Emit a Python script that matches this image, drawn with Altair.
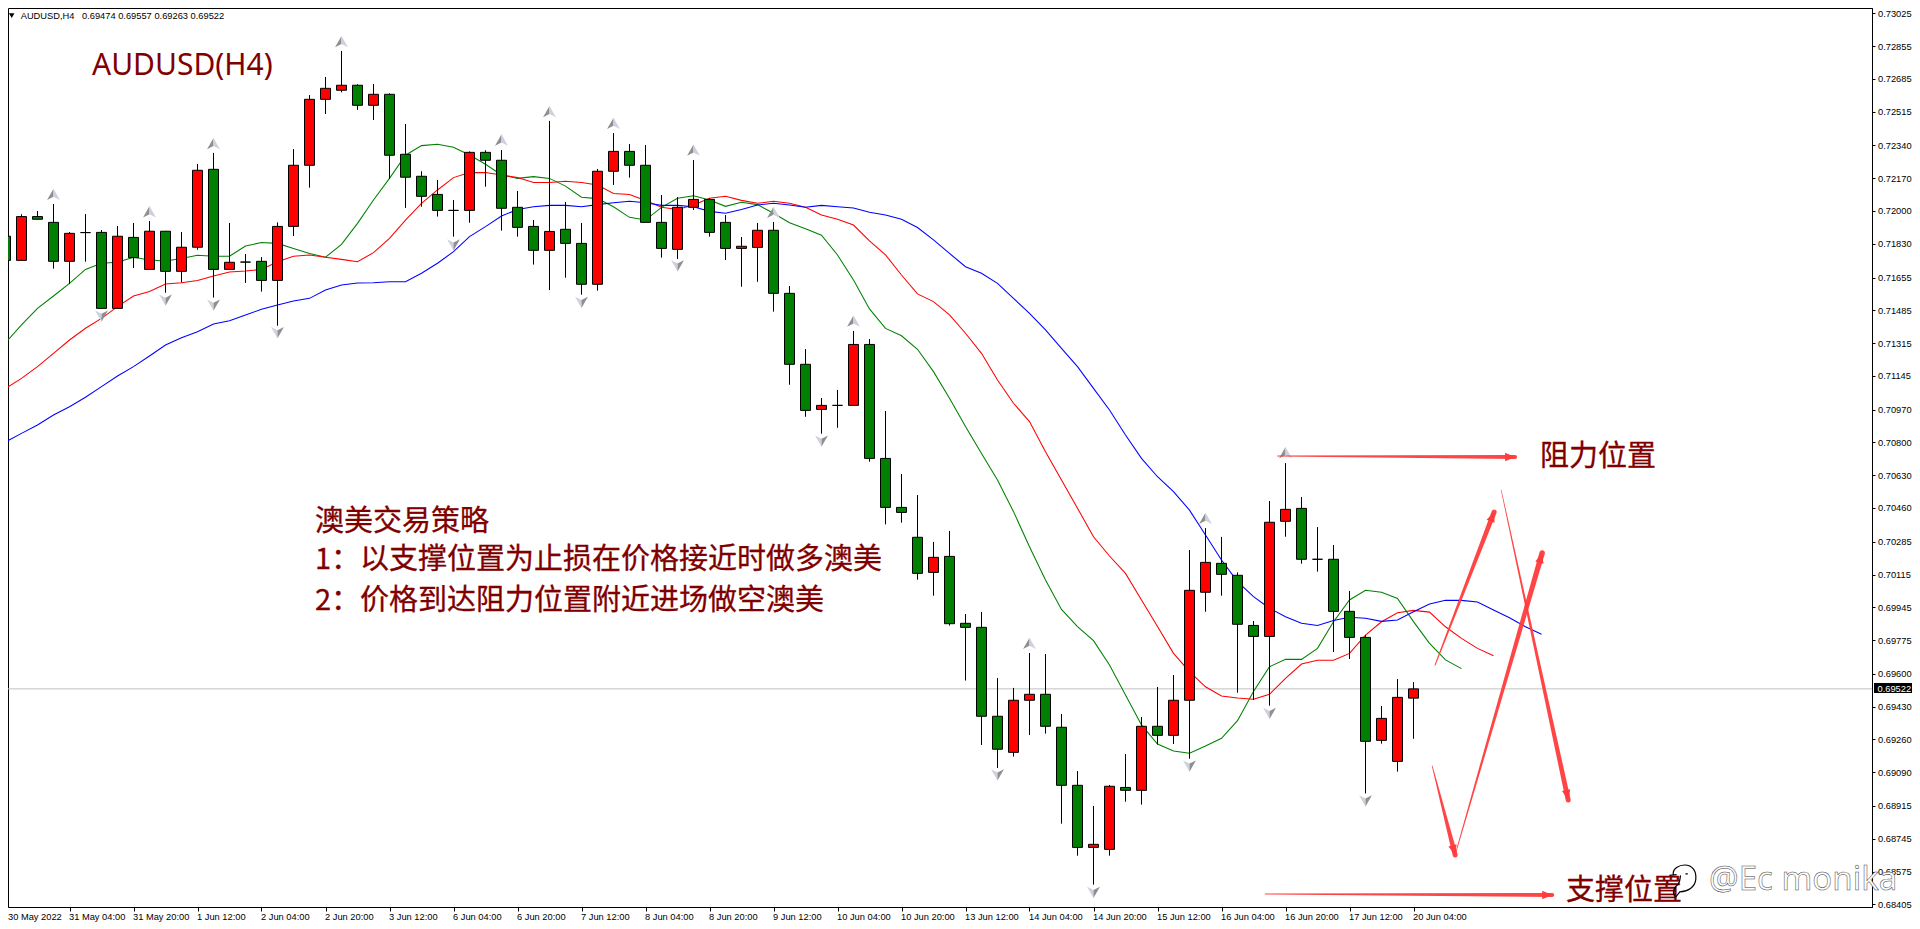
import altair as alt
import pandas as pd

opens = [.71869,.71744,.71971,.71941,.71739,.71888,.71889,.71495,.71863,.71697,.71895,.71687,.71812,.72216,.71697,.71735,.71739,.71640,.71920,.72237,.72579,.72626,.72652,.72548,.72605,.72294,.72180,.72086,.72003,.72003,.72304,.72263,.72019,.71920,.71796,.71905,.71832,.71620,.72206,.72309,.72237,.71941,.71801,.72019,.72060,.71941,.71806,.71811,.71900,.71573,.71205,.70971,.70992,.70992,.71308,.70717,.70463,.70308,.70126,.70209,.69862,.69841,.69380,.69193,.69463,.69494,.69323,.69022,.68700,.68690,.69011,.68996,.69328,.69281,.69463,.70023,.70173,.70111,.69851,.69794,.70391,.70458,.70194,.70194,.69924,.69789,.69255,.69146,.69474]
highs = [.71933,.71983,.72000,.72036,.71891,.71984,.71901,.71922,.71938,.71948,.71895,.71891,.72244,.72301,.71938,.71777,.71761,.71941,.72321,.72601,.72695,.72830,.72657,.72658,.72610,.72451,.72206,.72161,.72057,.72309,.72315,.72316,.72104,.71953,.72467,.72047,.71938,.72218,.72404,.72347,.72342,.72083,.72072,.72264,.72066,.71979,.71865,.71938,.71943,.71611,.71284,.71030,.71072,.71378,.71336,.70963,.70636,.70527,.70284,.70341,.69910,.69921,.69578,.69527,.69708,.69703,.69392,.69096,.68915,.69024,.69184,.69376,.69532,.69594,.70242,.70356,.70310,.70126,.69874,.70496,.70693,.70517,.70361,.70268,.70030,.69801,.69433,.69573,.69557]
lows = [.71729,.71744,.71957,.71701,.71621,.71737,.71495,.71495,.71704,.71697,.71576,.71630,.71799,.71551,.71697,.71627,.71582,.71405,.71870,.72121,.72503,.72615,.72524,.72472,.72166,.72016,.72022,.71971,.71867,.71939,.72126,.71898,.71867,.71722,.71590,.71654,.71566,.71587,.72135,.72173,.71941,.71758,.71751,.72005,.71867,.71746,.71607,.71633,.71478,.71099,.70933,.70845,.70876,.70992,.70700,.70375,.70384,.70088,.70005,.69850,.69565,.69231,.69112,.69171,.69283,.69290,.68823,.68657,.68507,.68657,.68937,.68922,.69234,.69236,.69160,.69922,.70005,.69502,.69464,.69435,.70311,.70171,.70130,.69713,.69677,.68980,.69238,.69093,.69263]
closes = [.71744,.71971,.71957,.71739,.71884,.71888,.71495,.71869,.71758,.71895,.71687,.71812,.72211,.71697,.71734,.71735,.71640,.71920,.72237,.72579,.72636,.72652,.72548,.72605,.72289,.72175,.72076,.72003,.72003,.72304,.72263,.72014,.71915,.71796,.71894,.71832,.71620,.72206,.72309,.72237,.71941,.71806,.72019,.72060,.71889,.71806,.71817,.71900,.71573,.71205,.70966,.70992,.70992,.71308,.70717,.70463,.70437,.70121,.70204,.69860,.69841,.69380,.69209,.69463,.69494,.69328,.69022,.68700,.68716,.69017,.68996,.69328,.69281,.69463,.70033,.70178,.70116,.69857,.69794,.70386,.70453,.70194,.70194,.69924,.69789,.69250,.69369,.69478,.69522]

green_line = [.71317,.71409,.71495,.71559,.71625,.71697,.71729,.71734,.71760,.71746,.71741,.71754,.71770,.71765,.71765,.71818,.71837,.71832,.71806,.71780,.71760,.71827,.71936,.72057,.72169,.72289,.72339,.72346,.72330,.72290,.72242,.72187,.72169,.72178,.72169,.72129,.72071,.72064,.72022,.71967,.71953,.72019,.72066,.72079,.72057,.72024,.72045,.72033,.71988,.71939,.71908,.71874,.71772,.71642,.71492,.71391,.71353,.71283,.71167,.71029,.70882,.70743,.70605,.70441,.70259,.70087,.69934,.69845,.69772,.69646,.69490,.69335,.69236,.69200,.69188,.69226,.69266,.69357,.69508,.69637,.69675,.69675,.69732,.69870,.69983,.70033,.70023,.69991,.69871,.69758,.69672,.69627]
red_line = [.71080,.71132,.71193,.71262,.71331,.71392,.71443,.71504,.71559,.71582,.71621,.71628,.71639,.71663,.71684,.71689,.71697,.71737,.71765,.71772,.71760,.71749,.71737,.71784,.71858,.71953,.72040,.72109,.72173,.72199,.72199,.72187,.72173,.72148,.72148,.72154,.72148,.72135,.72091,.72085,.72054,.72019,.72008,.72031,.72066,.72076,.72055,.72040,.72050,.72040,.72019,.71979,.71957,.71927,.71845,.71772,.71668,.71570,.71530,.71461,.71366,.71262,.71124,.71003,.70908,.70752,.70605,.70458,.70311,.70211,.70121,.69983,.69845,.69706,.69611,.69533,.69485,.69475,.69468,.69494,.69577,.69651,.69670,.69670,.69706,.69801,.69870,.69917,.69929,.69920,.69844,.69784,.69732,.69694]
blue_line = [.70802,.70847,.70890,.70942,.70985,.71034,.71089,.71144,.71193,.71248,.71305,.71343,.71374,.71414,.71431,.71461,.71490,.71512,.71533,.71547,.71590,.71616,.71627,.71628,.71633,.71633,.71677,.71729,.71789,.71867,.71919,.71974,.72008,.72022,.72029,.72029,.72022,.72033,.72043,.72050,.72043,.72029,.72029,.72022,.71998,.71988,.72008,.72031,.72040,.72031,.72019,.72029,.72022,.72015,.71993,.71979,.71957,.71914,.71850,.71780,.71711,.71677,.71625,.71547,.71469,.71383,.71288,.71193,.71080,.70968,.70838,.70717,.70622,.70545,.70449,.70320,.70190,.70078,.70000,.69940,.69896,.69862,.69851,.69876,.69893,.69888,.69872,.69879,.69922,.69962,.69981,.69981,.69972,.69931,.69891,.69844,.69805]

up_bars = [3,9,13,21,31,34,38,43,48,53,64,75,80]
up_prices = [.72086,.71996,.72349,.72878,.72368,.72515,.72454,.72316,.71993,.71429,.69758,.70406,.70747]
down_bars = [6,10,13,17,28,36,42,51,62,68,74,79,85]
down_prices = [.71455,.71538,.71512,.71369,.71824,.71526,.71715,.70807,.69076,.68467,.69122,.69395,.68941]

arrow_names = ["resistance","support","up1","down1","down2","up2"]
arrow_from_bar = [79.5,78.73,89.35,93.48,89.17,90.6]
arrow_from_price = [.707295,.684584,.696458,.705533,.691221,.686607]
arrow_to_bar = [94.35,96.67,93.04,97.67,90.6,96.04]
arrow_to_price = [.70724,.684532,.704392,.689458,.686607,.702266]
arrow_angle = [90,90,21,168,165,16]

price_ticks = [.73025,.72855,.72685,.72515,.72340,.72170,.72000,.71830,.71655,.71485,.71315,.71145,.70970,.70800,.70630,.70460,.70285,.70115,.69945,.69775,.69600,.69430,.69260,.69090,.68915,.68745,.68575,.68405]
time_labels = ["31 May 04:00","31 May 20:00","1 Jun 12:00","2 Jun 04:00","2 Jun 20:00","3 Jun 12:00","6 Jun 04:00","6 Jun 20:00","7 Jun 12:00","8 Jun 04:00","8 Jun 20:00","9 Jun 12:00","10 Jun 04:00","10 Jun 20:00","13 Jun 12:00","14 Jun 04:00","14 Jun 20:00","15 Jun 12:00","16 Jun 04:00","16 Jun 20:00","17 Jun 12:00","20 Jun 04:00"]
last_price = .69522

W, H = 1864, 899
SMALL = "Liberation Sans"
CJK = "Noto Sans CJK SC"
DARK = "#800000"
ARROW = "#ff3b3b"
FS = 9.3

xs = alt.Scale(domain=[0.15625, 116.65625], nice=False, zero=False, padding=0)
ys = alt.Scale(domain=[0.68391, 0.730525], nice=False, zero=False, padding=0)

candles = pd.DataFrame({"bar": range(len(opens)), "o": opens, "h": highs, "l": lows, "c": closes})
candles["fill"] = ["#ff0000" if c > o else "#008000" for o, c in zip(opens, closes)]

ticks_js = "[" + ",".join(f"'{t}'" for t in time_labels) + "]"
x_axis = alt.Axis(values=list(range(4, 89, 4)), labelExpr=ticks_js + "[datum.value/4-1]", title=None, grid=False,
                  labelAlign="left", labelBaseline="top", labelOffset=-1, labelPadding=1, tickSize=4,
                  labelFont=SMALL, labelFontSize=FS, labelColor="black", tickColor="black", domainColor="black",
                  labelOverlap=False, labelFlush=False)
y_axis = alt.Axis(orient="right", values=price_ticks, format=".5f", title=None, grid=False, tickSize=3, labelPadding=2.5,
                  labelFont=SMALL, labelFontSize=FS, labelColor="black", tickColor="black", domainColor="black",
                  labelOverlap=False, labelFlush=False)

X = alt.X("bar:Q", scale=xs, axis=x_axis)
Y = alt.Y("price:Q", scale=ys, axis=y_axis)


def line_layer(values, colour):
    df = pd.DataFrame({"bar": range(len(values)), "price": values})
    return alt.Chart(df).mark_line(color=colour, strokeWidth=1.05, interpolate="linear", clip=True).encode(x=X, y=Y)


def text_layer(text, px, py, size, font=CJK, colour=DARK, **kw):
    df = pd.DataFrame({"t": [text]})
    return alt.Chart(df).mark_text(font=font, fontSize=size, color=colour, align=kw.pop("align", "left"),
                                   baseline=kw.pop("baseline", "middle"), **kw).encode(
        text="t:N", x=alt.value(px - 8), y=alt.value(py - 8))


price_rule = alt.Chart(pd.DataFrame({"price": [last_price]})).mark_rule(color="#c0c0c0", strokeWidth=1).encode(
    y=Y, x=alt.value(0), x2=alt.value(W))

wicks = alt.Chart(candles).mark_rule(color="black", strokeWidth=1).encode(
    x=X,
    y=alt.Y("l:Q", scale=ys, axis=y_axis),
    y2="h:Q")
bodies = alt.Chart(candles).mark_bar(size=10, stroke="black", strokeWidth=1, orient="vertical").encode(
    x=X,
    y=alt.Y("o:Q", scale=ys, axis=y_axis),
    y2="c:Q",
    color=alt.Color("fill:N", scale=None))

up_df = pd.DataFrame({"bar": up_bars, "price": up_prices})
down_df = pd.DataFrame({"bar": down_bars, "price": down_prices})


def fractal(df, path, colour):
    return alt.Chart(df).mark_point(shape=path, filled=True, fill=colour, stroke=None, size=260, opacity=1).encode(x=X, y=Y)


frac_layers = [
    fractal(up_df, "M0,-0.7L-0.8,0.7L0,0.3Z", "#8f8f8f"),
    fractal(up_df, "M0,-0.7L0.8,0.7L0,0.3Z", "#ccd2dc"),
    fractal(down_df, "M0,0.7L-0.8,-0.7L0,-0.3Z", "#ccd2dc"),
    fractal(down_df, "M0,0.7L0.8,-0.7L0,-0.3Z", "#8f8f8f"),
]

arrow_rows = []
start_w = [1, 1, 1, 0.6, 0.8, 0.8]
end_w = [4, 4, 5, 5, 5, 5.5]
for i, n in enumerate(arrow_names):
    arrow_rows.append({"a": n, "bar": arrow_from_bar[i], "price": arrow_from_price[i], "w": start_w[i], "o": 0})
    arrow_rows.append({"a": n, "bar": arrow_to_bar[i], "price": arrow_to_price[i], "w": end_w[i], "o": 1})
trails = alt.Chart(pd.DataFrame(arrow_rows)).mark_trail(color=ARROW, opacity=0.95).encode(
    x=X, y=Y, size=alt.Size("w:Q", scale=None, legend=None), detail="a:N", order="o:Q")
heads_df = pd.DataFrame({"bar": arrow_to_bar, "price": arrow_to_price, "ang": arrow_angle})
heads = alt.Chart(heads_df).mark_point(shape="M0,0L0.85,2L-0.85,2Z", filled=True, fill=ARROW, stroke=None, size=100, opacity=1).encode(
    x=X, y=Y, angle=alt.Angle("ang:Q", scale=None))

box = alt.Chart(pd.DataFrame({"v": [1]})).mark_rect(color="black").encode(
    x=alt.value(1866), x2=alt.value(W + 40), y=alt.value(675), y2=alt.value(685))
tri = alt.Chart(pd.DataFrame({"v": [1]})).mark_point(shape="triangle-down", filled=True, color="black", size=30, opacity=1).encode(
    x=alt.value(3.7), y=alt.value(7.7))
bubble = alt.Chart(pd.DataFrame({"v": [1]})).mark_point(
    shape="M-0.85,-0.35L-0.4,-0.4M-0.6,-0.35C-0.7,-0.8 -0.2,-1 0.1,-1C0.6,-1 0.85,-0.6 0.8,-0.1C0.75,0.4 0.3,0.65 -0.2,0.68L-0.45,1M-0.45,1C-0.7,0.8 -0.6,0.4 -0.3,0.2C-0.15,0 -0.2,-0.2 -0.15,-0.35M0.15,-0.45L0.3,-0.45",
    filled=False, stroke="black", strokeWidth=1.2, size=1024, opacity=1).encode(x=alt.value(1675), y=alt.value(873))

layers = [price_rule, line_layer(green_line, "#008000"), line_layer(red_line, "#ff0000"), line_layer(blue_line, "#0000ff"),
          wicks, bodies] + frac_layers + [
    trails, heads, box, tri,
    text_layer("AUDUSD,H4", 20.7, 16, FS, font=SMALL, colour="black"),
    text_layer("0.69474 0.69557 0.69263 0.69522", 82, 16, FS, font=SMALL, colour="black"),
    text_layer("0.69522", 1877.5, 688.5, FS, font=SMALL, colour="white"),
    text_layer("30 May 2022", 8, 917, FS, font=SMALL, colour="black"),
    text_layer("AUDUSD(H4)", 92, 75, 30, font="Noto Sans", baseline="alphabetic"),
    text_layer("澳美交易策略", 315, 521.5, 29, stroke=DARK, strokeWidth=0.3),
    text_layer("1：以支撑位置为止损在价格接近时做多澳美", 315, 559.5, 29, stroke=DARK, strokeWidth=0.3),
    text_layer("2：价格到达阻力位置附近进场做空澳美", 315, 600.5, 29, stroke=DARK, strokeWidth=0.3),
    text_layer("阻力位置", 1540, 456.5, 29, stroke=DARK, strokeWidth=0.3),
    text_layer("支撑位置", 1566, 890.5, 29, stroke=DARK, strokeWidth=0.3),
    bubble,
    text_layer("@Ec monika", 1709, 880, 33, font="Noto Sans", colour="white", stroke="#444444", strokeWidth=0.5),
]

chart = alt.layer(*layers).properties(
    width=W, height=H,
    autosize=alt.AutoSizeParams(type="none"),
    padding={"left": 0, "top": 0, "right": 40, "bottom": 21},
    background="white",
).configure_view(stroke="black", strokeWidth=1)

chart.save("out.html", embed_options={"renderer": "svg", "actions": False})
